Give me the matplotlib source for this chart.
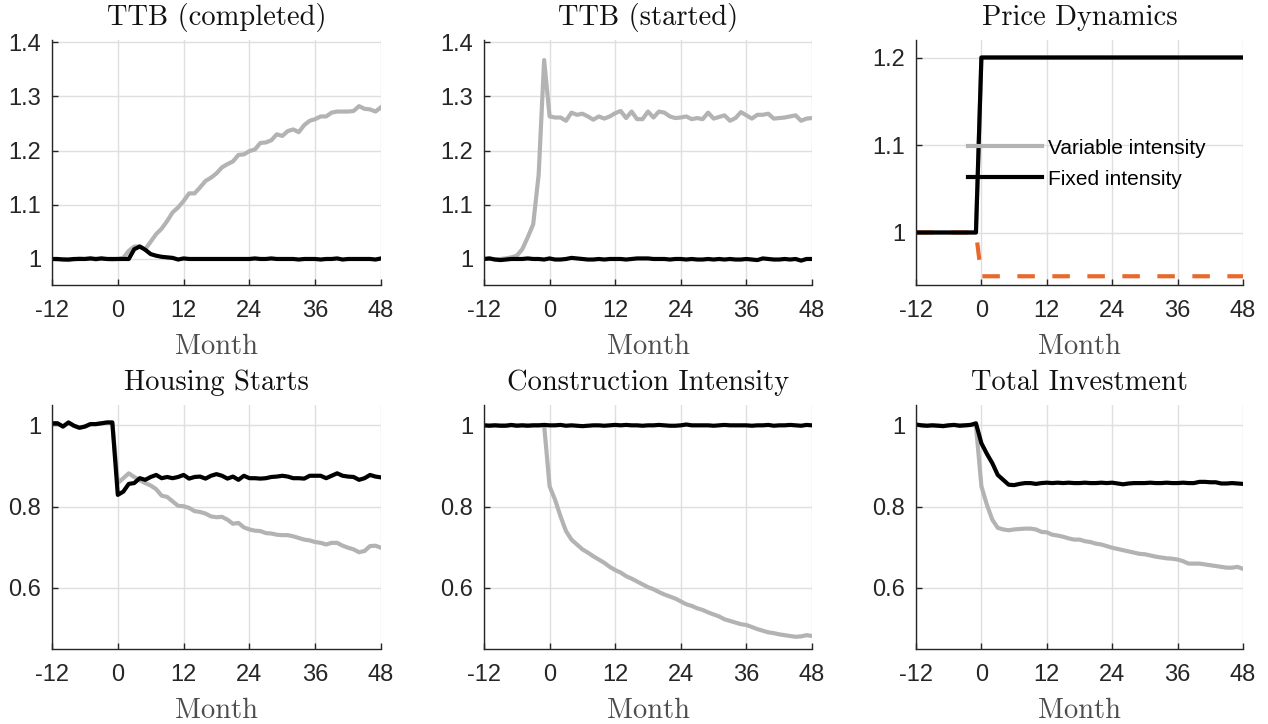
import numpy as np
import matplotlib
matplotlib.use("Agg")
import matplotlib.pyplot as plt

months = np.arange(-12, 49)
xticks = [-12, 0, 12, 24, 36, 48]

# ---------------- data ----------------
ttb_completed_var = [1.000, 0.999, 1.000, 0.998, 0.999, 1.001, 1.000, 1.001, 0.999, 1.001, 1.000, 0.999,
                     1.000, 1.002, 1.015, 1.023, 1.023, 1.018, 1.032, 1.046, 1.056, 1.070, 1.086, 1.095,
                     1.107, 1.121, 1.121, 1.132, 1.144, 1.150, 1.158, 1.169, 1.175, 1.180, 1.192, 1.193,
                     1.199, 1.202, 1.214, 1.215, 1.219, 1.230, 1.227, 1.236, 1.239, 1.234, 1.247, 1.255,
                     1.258, 1.263, 1.263, 1.270, 1.272, 1.272, 1.272, 1.273, 1.282, 1.277, 1.276, 1.272, 1.280]
ttb_completed_fix = [1.000, 1.000, 0.999, 0.999, 1.000, 1.000, 1.000, 1.001, 1.000, 1.001, 1.000, 1.000,
                     1.000, 1.000, 1.000, 1.018, 1.023, 1.017, 1.009, 1.006, 1.004, 1.003, 1.002, 0.999,
                     1.001, 1.000, 1.000, 1.000, 1.000, 1.000, 1.000, 1.000, 1.000, 1.000, 1.000, 1.000,
                     1.000, 1.001, 1.000, 1.000, 1.001, 1.000, 1.000, 1.000, 1.000, 0.999, 1.000, 1.000,
                     1.000, 0.999, 1.000, 1.000, 1.001, 0.999, 1.000, 1.000, 1.000, 1.000, 1.000, 0.999, 1.001]

ttb_started_var = [1.000, 1.001, 0.999, 1.000, 1.001, 1.003, 1.006, 1.018, 1.040, 1.064, 1.156, 1.367,
                   1.263, 1.261, 1.261, 1.255, 1.270, 1.266, 1.268, 1.263, 1.257, 1.263, 1.259, 1.263,
                   1.269, 1.273, 1.260, 1.272, 1.258, 1.258, 1.272, 1.261, 1.272, 1.270, 1.263, 1.260,
                   1.261, 1.263, 1.258, 1.260, 1.258, 1.270, 1.259, 1.262, 1.265, 1.255, 1.260, 1.271,
                   1.265, 1.259, 1.266, 1.266, 1.268, 1.259, 1.260, 1.261, 1.263, 1.265, 1.255, 1.259, 1.260]
ttb_started_fix = [1.000, 1.001, 0.999, 0.998, 0.999, 1.000, 1.000, 1.000, 1.001, 1.000, 1.000, 0.999,
                   1.001, 0.999, 0.999, 1.000, 1.002, 1.001, 1.000, 0.999, 0.999, 1.000, 0.999, 1.000,
                   1.000, 1.000, 0.999, 1.000, 1.001, 1.001, 1.001, 1.000, 1.000, 1.000, 0.999, 1.000,
                   1.000, 0.999, 1.000, 0.999, 0.999, 1.000, 0.999, 1.000, 0.999, 1.000, 0.999, 0.999,
                   1.000, 0.999, 0.998, 1.001, 1.000, 0.999, 0.999, 1.000, 0.999, 1.000, 0.997, 1.000, 1.000]

price_var = [1.0] * 12 + [1.2] * 49
price_fix = [1.0] * 12 + [1.2] * 49
price_other = [1.0] * 12 + [0.95] * 49

starts_var = [1.005, 1.005, 0.997, 1.007, 0.999, 0.994, 0.997, 1.003, 1.003, 1.005, 1.007, 1.007,
              0.858, 0.870, 0.882, 0.873, 0.865, 0.858, 0.852, 0.843, 0.827, 0.824, 0.813, 0.802,
              0.801, 0.797, 0.789, 0.787, 0.783, 0.776, 0.774, 0.775, 0.768, 0.758, 0.760, 0.749,
              0.744, 0.741, 0.740, 0.735, 0.734, 0.731, 0.730, 0.730, 0.727, 0.723, 0.719, 0.717,
              0.713, 0.711, 0.707, 0.711, 0.711, 0.704, 0.699, 0.695, 0.688, 0.691, 0.703, 0.704, 0.699]
starts_fix = [1.005, 1.005, 0.997, 1.007, 0.999, 0.994, 0.997, 1.003, 1.003, 1.005, 1.007, 1.007,
              0.829, 0.837, 0.856, 0.858, 0.870, 0.866, 0.873, 0.878, 0.870, 0.873, 0.870, 0.873,
              0.878, 0.869, 0.873, 0.874, 0.869, 0.876, 0.880, 0.876, 0.869, 0.874, 0.866, 0.876,
              0.870, 0.870, 0.869, 0.870, 0.873, 0.874, 0.876, 0.874, 0.870, 0.870, 0.869, 0.876,
              0.876, 0.876, 0.870, 0.876, 0.882, 0.876, 0.874, 0.873, 0.866, 0.870, 0.878, 0.874, 0.872]

intensity_var = [1.000, 1.000, 1.000, 1.000, 1.000, 1.000, 1.000, 1.000, 1.000, 1.000, 1.000, 1.000,
                 0.850, 0.817, 0.776, 0.740, 0.719, 0.707, 0.695, 0.687, 0.678, 0.670, 0.662, 0.652,
                 0.644, 0.638, 0.629, 0.623, 0.616, 0.609, 0.602, 0.597, 0.590, 0.584, 0.579, 0.574,
                 0.567, 0.560, 0.556, 0.550, 0.546, 0.540, 0.535, 0.530, 0.523, 0.519, 0.515, 0.511,
                 0.509, 0.504, 0.499, 0.495, 0.491, 0.489, 0.486, 0.484, 0.482, 0.480, 0.481, 0.484, 0.482]
intensity_fix = [1.000, 0.999, 1.000, 0.999, 0.999, 1.001, 0.999, 1.000, 0.999, 1.000, 1.000, 1.001,
                 1.000, 1.000, 1.001, 0.999, 1.000, 0.999, 0.998, 0.999, 1.000, 1.000, 0.999, 1.000,
                 1.001, 1.000, 1.001, 1.000, 1.000, 0.999, 1.000, 1.000, 1.001, 1.000, 0.999, 0.999,
                 1.000, 1.002, 1.000, 1.000, 1.000, 1.000, 0.999, 1.000, 1.001, 1.000, 1.000, 1.000,
                 1.000, 0.999, 1.000, 1.000, 1.001, 0.999, 1.000, 1.000, 1.001, 1.000, 0.999, 1.001, 1.000]

invest_var = [1.001, 1.000, 0.999, 1.000, 1.000, 0.999, 1.000, 1.001, 1.000, 1.000, 1.001, 1.000,
              0.850, 0.805, 0.768, 0.748, 0.744, 0.742, 0.744, 0.745, 0.746, 0.746, 0.744, 0.738,
              0.737, 0.731, 0.729, 0.726, 0.722, 0.719, 0.719, 0.715, 0.713, 0.709, 0.707, 0.703,
              0.699, 0.696, 0.693, 0.690, 0.687, 0.684, 0.683, 0.680, 0.677, 0.675, 0.673, 0.672,
              0.670, 0.666, 0.660, 0.660, 0.660, 0.658, 0.656, 0.654, 0.652, 0.650, 0.650, 0.652, 0.647]
invest_fix = [1.002, 1.000, 0.999, 1.000, 0.999, 0.998, 1.000, 1.001, 0.999, 1.000, 1.001, 1.005,
              0.956, 0.930, 0.907, 0.878, 0.866, 0.854, 0.853, 0.856, 0.858, 0.858, 0.856, 0.858,
              0.859, 0.858, 0.859, 0.858, 0.859, 0.858, 0.858, 0.859, 0.858, 0.858, 0.859, 0.858,
              0.859, 0.857, 0.855, 0.857, 0.858, 0.858, 0.858, 0.859, 0.858, 0.858, 0.859, 0.858,
              0.858, 0.859, 0.858, 0.858, 0.861, 0.861, 0.860, 0.860, 0.857, 0.857, 0.858, 0.857, 0.856]

titles = ["TTB (completed)", "TTB (started)", "Price Dynamics",
          "Housing Starts", "Construction Intensity", "Total Investment"]
legend_labels = ["Variable intensity", "Fixed intensity"]

# ---------------- style ----------------
GRAY = "#b3b3b3"
BLACK = "#000000"
ORANGE = "#e8692d"
AXC = "#262626"
SERIF = "cmr10"
SANS = "Liberation Sans"

plt.rcParams["font.family"] = SANS
plt.rcParams["axes.unicode_minus"] = False

fig = plt.figure(figsize=(12.68, 7.24), dpi=100)

W = 1268.0
H = 724.0
col_left = [52, 484, 916]
col_w = [329, 328, 327]
row_top = [40, 405]
row_bot = [285, 649]

ylims = [(0.952, 1.404), (0.952, 1.404), (0.94, 1.22),
         (0.45, 1.05), (0.45, 1.05), (0.45, 1.05)]
yticks = [[1, 1.1, 1.2, 1.3, 1.4], [1, 1.1, 1.2, 1.3, 1.4], [1, 1.1, 1.2],
          [0.6, 0.8, 1], [0.6, 0.8, 1], [0.6, 0.8, 1]]

series = [(ttb_completed_var, ttb_completed_fix), (ttb_started_var, ttb_started_fix),
          (price_var, price_fix), (starts_var, starts_fix),
          (intensity_var, intensity_fix), (invest_var, invest_fix)]


def fmt(v):
    s = ("%.1f" % v)
    if s.endswith(".0"):
        s = s[:-2]
    return s


for i in range(6):
    r, c = divmod(i, 3)
    ax = fig.add_axes([col_left[c] / W, 1 - row_bot[r] / H,
                       col_w[c] / W, (row_bot[r] - row_top[r]) / H])
    var, fix = series[i]
    if i == 2:
        lv, = ax.plot(months, var, color=GRAY, lw=3.0, label=legend_labels[0])
        ax.plot(months, price_other, color=ORANGE, lw=3.0, dashes=(4.2, 4.2))
        lf, = ax.plot(months, fix, color=BLACK, lw=3.0, label=legend_labels[1])
        leg = ax.legend(handles=[lv, lf], loc="center left", bbox_to_anchor=(0.159, 0.495),
                        frameon=False, fontsize=15, handlelength=3.55, handletextpad=0.28,
                        labelspacing=0.58, borderaxespad=0.0, borderpad=0.0)
        leg.set_zorder(10)
    else:
        ax.plot(months, var, color=GRAY, lw=3.0)
        ax.plot(months, fix, color=BLACK, lw=3.0)

    ax.set_xlim(-12, 48)
    ax.set_ylim(*ylims[i])
    ax.set_xticks(xticks)
    ax.set_xticklabels([str(t) for t in xticks])
    ax.set_yticks(yticks[i])
    ax.set_yticklabels([fmt(v) for v in yticks[i]])
    ax.grid(True, color="#dfdfdf", lw=1.0)
    ax.set_axisbelow(True)
    for s in ["top", "right"]:
        ax.spines[s].set_visible(False)
    for s in ["left", "bottom"]:
        ax.spines[s].set_color(AXC)
        ax.spines[s].set_linewidth(1.0)
    ax.tick_params(direction="in", length=4, width=1.0, colors=AXC,
                   labelsize=17, labelcolor=AXC)
    ax.tick_params(axis="x", pad=11)
    ax.tick_params(axis="y", pad=8)
    ax.set_title(titles[i], family=SERIF, fontsize=20.5, color="#111111", pad=11)
    ax.set_xlabel("Month", family=SERIF, fontsize=20.5, color="#4d4d4d", labelpad=8)

fig.savefig("out.png", dpi=100)
